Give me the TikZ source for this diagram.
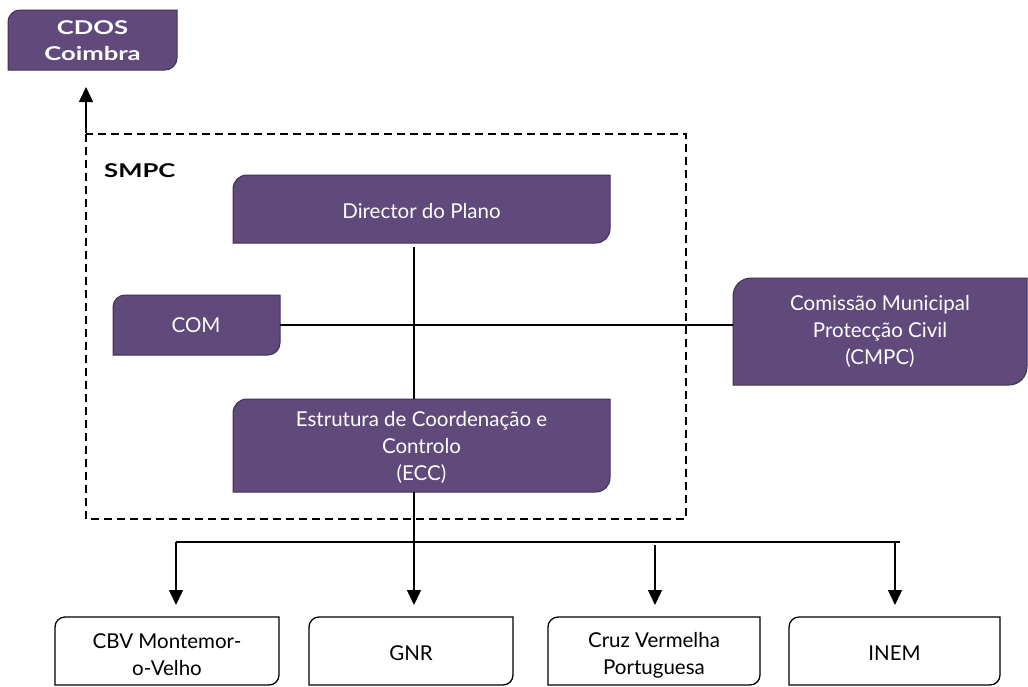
\documentclass[tikz,border=0pt]{standalone}
\usepackage{fontspec}
\setmainfont{Lato}
\newfontfamily\widebold[FakeStretch=1.35]{Lato}
\usetikzlibrary{arrows.meta}
\definecolor{purp}{HTML}{604A7B}
\definecolor{purpdark}{HTML}{3F3151}
\tikzset{
  lbl/.style={align=center, font=\fontsize{20.5}{27}\selectfont, inner sep=0pt},
  wlbl/.style={lbl, text=white},
  pbox/.style={fill=purp, draw=purpdark, line width=1pt},
  obox/.style={fill=white, draw=black, line width=1.3pt},
  conn/.style={line width=1.4pt},
  arr/.style={conn, -{Triangle[width=14pt,length=15pt]}},
  dashbox/.style={line width=1.4pt, dash pattern=on 8pt off 5pt},
}
% box with rounded top-left and bottom-right corners
\newcommand{\diagbox}[6]{% style, x1, y1, x2, y2, radius
  \path[#1] (#2,#5) -- (#2,#3+#6)
    .. controls (#2,#3+0.448*#6) and (#2+0.448*#6,#3) .. (#2+#6,#3)
    -- (#4,#3) -- (#4,#5-#6)
    .. controls (#4,#5-0.448*#6) and (#4-0.448*#6,#5) .. (#4-#6,#5)
    -- cycle;}
\begin{document}
\begin{tikzpicture}[x=1pt,y=-1pt]
\useasboundingbox (0,0) rectangle (1028,686);
% boxes
\diagbox{pbox}{8}{10}{177}{70}{12}
\diagbox{pbox}{233}{175}{610}{243}{14}
\diagbox{pbox}{113}{295}{280}{355}{12}
\diagbox{pbox}{733}{278}{1027}{385}{18}
\diagbox{pbox}{233}{399}{610}{492}{14}
\diagbox{obox}{55}{617}{279}{685}{10}
\diagbox{obox}{309}{617}{513}{685}{10}
\diagbox{obox}{548}{617}{760}{685}{10}
\diagbox{obox}{789}{617}{1000}{685}{10}
% dashed SMPC frame
\draw[dashbox] (86,134) rectangle (686,519);
% labels
\node[wlbl, font=\widebold\fontsize{19}{26}\selectfont\bfseries] (cdos) at (92.5,41) {CDOS\\Coimbra};
\node[lbl, font=\widebold\fontsize{19}{26}\selectfont\bfseries, anchor=west] (smpc) at (104,171) {SMPC};
\node[wlbl] (dir) at (421.5,211) {Director do Plano};
\node[wlbl] (com) at (196,325) {COM};
\node[wlbl] (cmpc) at (880,331) {Comissão Municipal\\Protecção Civil\\(CMPC)};
\node[wlbl] (ecc) at (421.5,447) {Estrutura de Coordenação e\\Controlo\\(ECC)};
\node[lbl] (cbv) at (167,655) {CBV Montemor-\\o-Velho};
\node[lbl] (gnr) at (411,653) {GNR};
\node[lbl] (cvp) at (654,655) {Cruz Vermelha\\Portuguesa};
\node[lbl] (inem) at (894.5,653) {INEM};
% coordinates for connectors
\coordinate (dirb) at (414,247);
\coordinate (ecct) at (414,399);
\coordinate (eccb) at (414,492);
\coordinate (hl) at (176,542);
\coordinate (hr) at (900,542);
\coordinate (upstart) at (86,133);
\coordinate (uptip) at (86,87);
\coordinate (comr) at (280,325);
\coordinate (cmpcl) at (733,325);
% connectors
\draw[arr] (upstart) -- (uptip);
\draw[conn] (dirb) -- (ecct);
\draw[conn] (comr) -- (cmpcl);
\draw[arr] (eccb) -- (414,605);
\draw[conn] (hl) -- (hr);
\draw[arr] (hl) -- (176,605);
\draw[arr] (655,545) -- (655,605);
\draw[arr] (895,542) -- (895,605);
\end{tikzpicture}
\end{document}
